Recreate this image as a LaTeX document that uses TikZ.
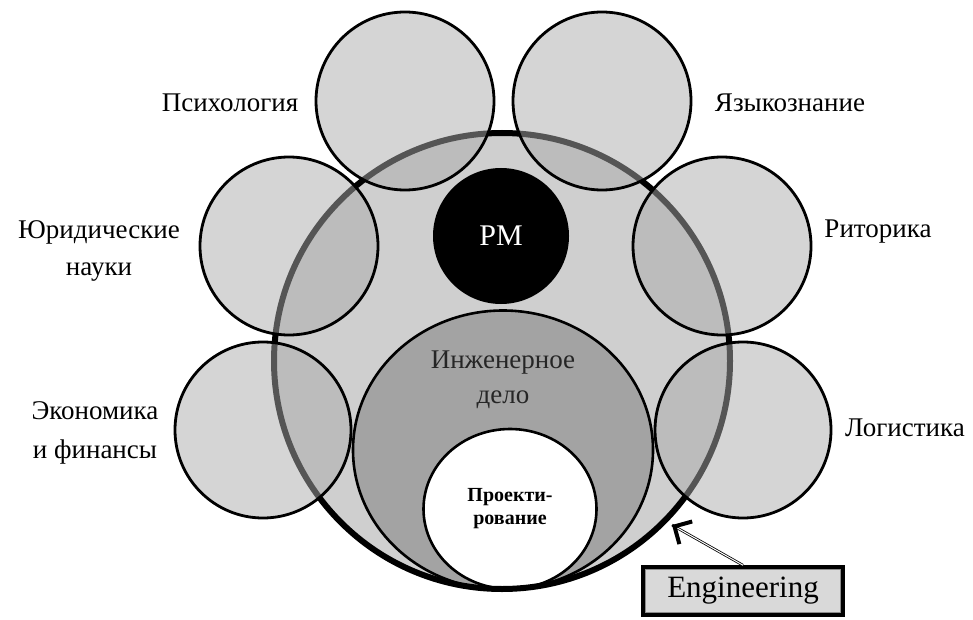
\documentclass[tikz,border=0pt]{standalone}
\usepackage{fontspec}
\setmainfont{Liberation Serif}
\usetikzlibrary{arrows.meta,shapes.geometric,calc}

\tikzset{
	discipline/.style={circle,draw=black,line width=2.8pt,fill=black!33,fill opacity=0.5,minimum size=178pt,inner sep=0pt},
	disclabel/.style={font=\fontsize{27}{37}\selectfont,align=center},
}

\begin{document}
\begin{tikzpicture}[x=1pt,y=-1pt]
	\useasboundingbox (0,0) rectangle (973,620);
	% Big circle
	\node[circle,fill=black!19,minimum size=456pt,inner sep=0pt] (field) at (502,361) {};
	\node[ellipse,draw,line width=2.6pt,fill=black!36,minimum width=300pt,minimum height=279pt,inner sep=0pt] (ingdelo) at (503,450) {};
	\node[ellipse,draw,line width=2.6pt,fill=white,minimum width=173pt,minimum height=160pt,inner sep=0pt] (proekt) at (510,509) {};
	\node[circle,fill=black,minimum size=136pt,inner sep=0pt] (pm) at (501,236) {};
	\node[circle,draw,line width=6pt,minimum size=456pt,inner sep=0pt] at (field.center) {};
	% Small circles
	\node[discipline] (psy) at (405,101) {};
	\node[discipline] (lang) at (602,101) {};
	\node[discipline] (law) at (289,246) {};
	\node[discipline] (rhet) at (722,246) {};
	\node[discipline,minimum size=176pt] (econ) at (263,430) {};
	\node[discipline,minimum size=176pt] (logi) at (743,430) {};
	% Texts
	\node[font=\fontsize{30}{32}\selectfont,text=white] at (pm.center) {PM};
	\node[disclabel,text=black!85,font=\fontsize{27}{35}\selectfont] at (503,380) {Инженерное\\дело};
	\node[font=\bfseries\fontsize{20}{23}\selectfont,align=center] at (proekt.center) {Проекти-\\рование};
	\node[disclabel] at (230,103) {Психология};
	\node[disclabel] at (790,103) {Языкознание};
	\node[disclabel] at (99,251) {Юридические\\науки};
	\node[disclabel] at (878,232) {Риторика};
	\node[disclabel,font=\fontsize{27}{39}\selectfont] at (95,433) {Экономика\\и финансы};
	\node[disclabel] at (905,428) {Логистика};
	% Engineering box
	\node[draw=black,line width=3.5pt,fill=black!15,minimum width=200pt,minimum height=48pt,font=\fontsize{31}{34}\selectfont] (engbox) at (743,591) {Engineering};
	\draw[black!45,line width=0.6pt] ([shift={(4.5pt,-4.5pt)}]engbox.north west) rectangle ([shift={(-4.5pt,4.5pt)}]engbox.south east);
	\coordinate (tip) at (672,525);
	\draw[double,double distance=1pt,line width=0.8pt] (engbox.north) -- (tip);
	\draw[line width=4pt,-{Straight Barb[length=13pt,width=26pt]}] ($(tip)!6pt!(engbox.north)$) -- (tip);
\end{tikzpicture}
\end{document}
